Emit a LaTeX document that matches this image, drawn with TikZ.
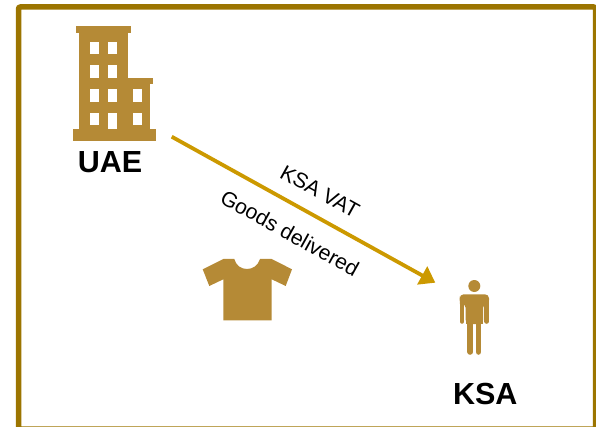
\documentclass[tikz,border=0pt]{standalone}
\usepackage{fontspec}
\setmainfont{Liberation Sans}
\usetikzlibrary{arrows.meta}
\definecolor{framegold}{HTML}{9C7500}
\definecolor{icongold}{HTML}{B58A36}
\definecolor{arrowgold}{HTML}{CC9900}
\begin{document}
\begin{tikzpicture}[x=1pt, y=-1pt]
    \tikzstyle{frame} = [color=framegold, line width=5.5pt, rounded corners=2pt]
    \tikzstyle{icon} = [fill=icongold, draw=none]
    \tikzstyle{hole} = [fill=white, draw=none]
    \tikzstyle{limb} = [color=icongold, line width=4.6pt, line cap=round]
    \tikzstyle{flow} = [color=arrowgold, line width=3.8pt, -{Triangle[length=15pt, width=20pt]}]
    \tikzstyle{country} = [font=\fontsize{30.5}{30}\selectfont\bfseries, text=black]
    \tikzstyle{flowlabel} = [font=\fontsize{21.2}{22}\selectfont, text=black, rotate=-29]
    \useasboundingbox (0, 0) rectangle (596, 427);
    \draw[frame] (18.5, 7) rectangle (595.5, 429);

    % building
    \fill[icon] (76.3, 26) rectangle (130.7, 32.7);
    \fill[icon] (78.7, 32) rectangle (128.3, 130);
    \fill[icon] (128, 78) rectangle (152.7, 83.7);
    \fill[icon] (128, 83) rectangle (150.3, 130);
    \fill[icon] (73.3, 129) rectangle (155.7, 140.7);
    \foreach \wx in {90.3, 108} {
        \foreach \wy in {41.7, 65.3, 89.3} {
            \fill[hole] (\wx, \wy) rectangle +(8.5, 12.5);
        }
    }
    \fill[hole] (133, 89.3) rectangle +(9, 12.7);
    \fill[hole] (90.3, 112.7) rectangle +(8.5, 12.6);
    \fill[hole] (108, 112.7) rectangle +(8.7, 16.6);
    \fill[hole] (133, 112.7) rectangle +(9, 12.6);
    \node[country] (uae) at (110, 162) {UAE};

    % shirt
    \fill[icon] (202.7, 269.3) -- (223.3, 259) -- (234.3, 259)
        .. controls (236, 265.5) and (241, 269) .. (247, 269)
        .. controls (253, 269) and (258, 265.5) .. (260, 259)
        -- (271.7, 259) -- (292, 269.3) -- (285.7, 286) -- (271.7, 279.3)
        -- (271.7, 320.3) -- (223.3, 320.3) -- (223.3, 279.3) -- (209.3, 286) -- cycle;

    % person
    \fill[icon] (474.3, 286) circle (6);
    \fill[icon, rounded corners=4pt] (459.7, 300) -- (459.7, 294.3) -- (489, 294.3) -- (489, 304)
        -- (483, 304) -- (483, 324) -- (465.7, 324) -- (465.7, 304) -- (459.7, 304) -- cycle;
    \draw[limb] (462, 300) -- (462, 321.5);
    \draw[limb] (486.7, 300) -- (486.7, 321.5);
    \fill[icon] (465.7, 300) rectangle (483, 324);
    \draw[limb, line width=5.6pt] (470.2, 320) -- (470.2, 352);
    \draw[limb, line width=5.6pt] (478.5, 320) -- (478.5, 352);
    \node[country] (ksa) at (485.3, 394) {KSA};

    % delivery
    \coordinate (flowstart) at (171.7, 136.7);
    \coordinate (flowend) at (435.3, 282.7);
    \draw[flow] (flowstart) -- (flowend);
    \node[flowlabel] (vat) at (320, 191.7) {KSA VAT};
    \node[flowlabel] (goods) at (290, 233) {Goods delivered};
\end{tikzpicture}
\end{document}
